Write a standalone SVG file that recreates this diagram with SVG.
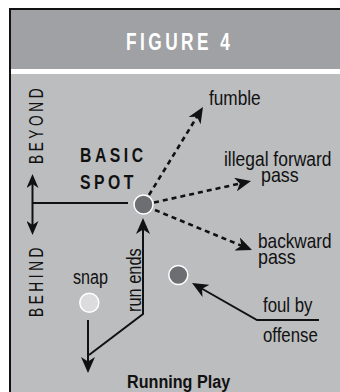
<svg xmlns="http://www.w3.org/2000/svg" width="340" height="392" viewBox="0 0 340 392">
<style>
  .lbl { font-family: "Liberation Sans", Arial, sans-serif; font-size: 21px; fill: #111; }
  .bold { font-family: "Liberation Sans", Arial, sans-serif; font-weight: bold; fill: #111; }
  .solid { fill: none; stroke: #111; stroke-width: 2; }
  .dash { fill: none; stroke: #111; stroke-width: 2.6; stroke-dasharray: 5 4; }
  .spot { fill: #6d6e71; stroke: #fff; stroke-width: 1.5; }
</style>
<defs>
  <marker id="ah" markerUnits="userSpaceOnUse" markerWidth="16" markerHeight="14" refX="8" refY="7" orient="auto-start-reverse">
    <path d="M0,0 L16,7 L0,14 L4.5,7 Z" fill="#111"/>
  </marker>
  <marker id="ahs" markerUnits="userSpaceOnUse" markerWidth="14" markerHeight="12" refX="7" refY="6" orient="auto-start-reverse">
    <path d="M0,0 L14,6 L0,12 L4,6 Z" fill="#111"/>
  </marker>
</defs>

<g id="frame">
  <rect x="0" y="0" width="340" height="392" fill="#fff"/>
  <rect x="9" y="8" width="331" height="384" fill="#111"/>
  <rect x="11" y="10" width="329" height="59" fill="#a0a1a4"/>
  <rect x="11" y="69" width="329" height="5" fill="#fff"/>
  <rect x="11" y="74" width="329" height="318" fill="#bcbdbf"/>
</g>

<g id="title">
  <text class="bold" transform="translate(126,50) scale(0.72,1)" font-size="24" letter-spacing="4.8" style="fill:#fff">FIGURE 4</text>
</g>

<g id="connectors">
  <line class="solid" x1="32.5" y1="203" x2="128" y2="203" stroke-width="1.8"/>
  <line class="solid" x1="32.5" y1="181" x2="32.5" y2="228" marker-start="url(#ahs)" marker-end="url(#ahs)"/>
  <line class="dash" x1="149" y1="195" x2="198.8" y2="113.8" marker-end="url(#ah)"/>
  <line class="dash" x1="154" y1="202.5" x2="243.2" y2="182.8" marker-end="url(#ah)"/>
  <line class="dash" x1="155" y1="210" x2="244.6" y2="247" marker-end="url(#ah)"/>
  <polyline class="solid" points="89,355 143,314 143,226" marker-end="url(#ah)"/>
  <line class="solid" x1="88" y1="320" x2="88" y2="365" marker-end="url(#ah)"/>
  <polyline class="solid" points="319,320 257,320 199,287" marker-end="url(#ah)"/>
</g>

<g id="beyond">
  <text class="lbl" transform="translate(43,164) rotate(-90) scale(0.65,1)" font-size="23" letter-spacing="5.5">BEYOND</text>
</g>
<g id="behind">
  <text class="lbl" transform="translate(43,317) rotate(-90) scale(0.65,1)" font-size="23" letter-spacing="5.5">BEHIND</text>
</g>

<g id="basic-spot">
  <text class="bold" transform="translate(80,162) scale(0.75,1)" font-size="21" letter-spacing="4.7">BASIC</text>
  <text class="bold" transform="translate(80,189) scale(0.75,1)" font-size="21" letter-spacing="4.7">SPOT</text>
  <circle class="spot" cx="143.5" cy="204.5" r="9.5"/>
</g>

<g id="fumble">
  <text class="lbl" transform="translate(209,105) scale(0.82,1)">fumble</text>
</g>
<g id="illegal-forward-pass">
  <text class="lbl" transform="translate(224,166) scale(0.83,1)" font-size="20">illegal forward</text>
  <text class="lbl" transform="translate(261,182) scale(0.85,1)" font-size="20">pass</text>
</g>
<g id="backward-pass">
  <text class="lbl" transform="translate(258,248) scale(0.82,1)" font-size="20">backward</text>
  <text class="lbl" transform="translate(258,264) scale(0.85,1)" font-size="20">pass</text>
</g>
<g id="snap">
  <text class="lbl" transform="translate(73,284) scale(0.77,1)">snap</text>
  <circle cx="89.3" cy="302.7" r="9.5" fill="#dcdcde" stroke="#fff" stroke-width="1.5"/>
</g>
<g id="run-ends">
  <text class="lbl" transform="translate(141,312) rotate(-90) scale(0.78,1)">run ends</text>
</g>
<g id="foul-spot">
  <circle class="spot" cx="178.3" cy="275" r="9.5"/>
</g>
<g id="foul-by-offense">
  <text class="lbl" transform="translate(263,312) scale(0.8,1)" font-size="20">foul by</text>
  <text class="lbl" transform="translate(263,342) scale(0.8,1)" font-size="20">offense</text>
</g>
<g id="running-play">
  <text class="bold" transform="translate(127,388) scale(0.85,1)" font-size="19">Running Play</text>
</g>
</svg>
